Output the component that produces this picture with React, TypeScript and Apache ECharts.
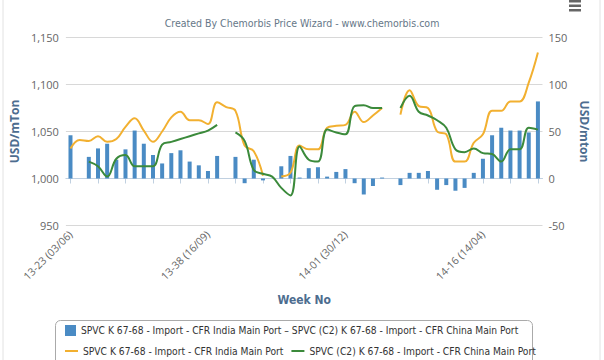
import React, { useEffect, useRef } from "react";
import * as echarts from "echarts";

const categories = [
  "13-23 (03/06)", "13-24 (10/06)", "13-25 (17/06)", "13-26 (24/06)", "13-27 (01/07)", "13-28 (08/07)",
  "13-29 (15/07)", "13-30 (22/07)", "13-31 (29/07)", "13-32 (05/08)", "13-33 (12/08)", "13-34 (19/08)",
  "13-35 (26/08)", "13-36 (02/09)", "13-37 (09/09)", "13-38 (16/09)", "13-39 (23/09)", "13-40 (30/09)",
  "13-41 (07/10)", "13-42 (14/10)", "13-43 (21/10)", "13-44 (28/10)", "13-45 (04/11)", "13-46 (11/11)",
  "13-47 (18/11)", "13-48 (25/11)", "13-49 (02/12)", "13-50 (09/12)", "13-51 (16/12)", "13-52 (23/12)",
  "14-01 (30/12)", "14-02 (06/01)", "14-03 (13/01)", "14-04 (20/01)", "14-05 (27/01)", "14-06 (03/02)",
  "14-07 (10/02)", "14-08 (17/02)", "14-09 (24/02)", "14-10 (03/03)", "14-11 (10/03)", "14-12 (17/03)",
  "14-13 (24/03)", "14-14 (31/03)", "14-15 (07/04)", "14-16 (14/04)", "14-17 (21/04)", "14-18 (28/04)",
  "14-19 (05/05)", "14-20 (12/05)", "14-21 (19/05)", "14-22 (26/05)",
];

const spreadValues = [
  46, null, 23, 32, 37, 20, 31, 51, 37, 25, 16, 27, 30, 18, 14, 8, 24, null,
  23, -5, 20, -2, null, 13, 24, 1, 11, 12, 2, 7, 10, -5, -17, -8, 1, null,
  -7, 6, 6, 8, -12, -7, -13, -10, 6, 21, 46, 54, 51, 51, 49, 82,
];

const indiaValues = [
  1032, 1041, 1040, 1045, 1039, 1042, 1055, 1064, 1051, 1039, 1050, 1065, 1071, 1062, 1062, 1058, 1081, 1076,
  1072, 1035, 1029, 1003, null, 1002, 1006, 1035, 1031, 1031, 1054, 1056, 1057, 1071, 1060, 1067, 1075, null,
  1068, 1094, 1077, 1075, 1050, 1047, 1018, 1018, 1038, 1047, 1072, 1072, 1082, 1082, 1102, 1134,
];

const chinaValues = [
  null, null, 1018, 1013, 1002, 1021, 1025, 1013, 1013, 1013, 1036, 1039, 1042, 1045, 1048, 1051, 1057, null,
  1049, 1040, 1009, 1005, 1002, 990, 982, 1034, 1020, 1018, 1052, 1049, 1047, 1077, 1078, 1075, 1075, null,
  1075, 1088, 1071, 1067, 1062, 1054, 1031, 1028, 1032, 1027, 1026, 1018, 1031, 1031, 1054, 1052,
];

const spreadName =
  "SPVC K 67-68 - Import - CFR India Main Port \u2013 SPVC (C2) K 67-68 - Import - CFR China Main Port";
const indiaName = "SPVC K 67-68 - Import - CFR India Main Port";
const chinaName = "SPVC (C2) K 67-68 - Import - CFR China Main Port";
const titleText = "Created By Chemorbis Price Wizard - www.chemorbis.com";

const FONT = "'Liberation Sans Narrow', 'DejaVu Sans Condensed', Roboto, sans-serif";
const AXISFONT = "'Open Sans', Roboto, sans-serif";

export default function App() {
  const ref = useRef<HTMLDivElement>(null);
  useEffect(() => {
    const chart = echarts.init(ref.current!, null, { renderer: "svg" });
    chart.setOption({
      animation: false,
      backgroundColor: "#ffffff",
      title: {
        text: titleText,
        left: 297,
        textAlign: "center",
        top: 12,
        textStyle: { fontFamily: FONT, fontSize: 10.5, fontWeight: "normal", color: "#667788" },
      },
      grid: { left: 60.5, right: 61.5, top: 37.5, bottom: 134.5, containLabel: false },
      legend: [
        {
          data: [{ name: spreadName, icon: "rect" }],
          left: 65,
          top: 325,
          itemWidth: 11,
          itemHeight: 11,
          itemGap: 6,
          padding: 0,
          textStyle: { fontFamily: FONT, fontSize: 10.2, color: "#333" },
          selectedMode: false,
        },
        {
          data: [
            { name: indiaName, icon: "rect" },
            { name: chinaName, icon: "rect" },
          ],
          left: 65,
          top: 346,
          itemWidth: 13,
          itemHeight: 2,
          itemGap: 8,
          padding: 0,
          textStyle: { fontFamily: FONT, fontSize: 10.2, color: "#333" },
          selectedMode: false,
        },
      ],
      xAxis: {
        type: "category",
        data: categories,
        boundaryGap: true,
        name: "Week No",
        nameLocation: "middle",
        nameGap: 68,
        nameTextStyle: { fontFamily: FONT, fontSize: 12, fontWeight: "bold", color: "#4d6d8f" },
        axisLine: { show: true, lineStyle: { color: "#c0d0e0", width: 1 } },
        axisTick: { show: true, interval: 2, alignWithLabel: true, length: 5, lineStyle: { color: "#c0d0e0" } },
        axisLabel: { interval: 14, rotate: 45, fontSize: 10.5, color: "#666", fontFamily: AXISFONT, margin: 7 },
        splitLine: { show: false },
      },
      yAxis: [
        {
          type: "value",
          min: 950,
          max: 1150,
          interval: 50,
          name: "USD/mTon",
          nameLocation: "middle",
          nameGap: 38,
          nameTextStyle: { fontFamily: AXISFONT, fontSize: 12, fontWeight: "bold", color: "#4d6d8f" },
          axisLine: { show: false },
          axisTick: { show: false },
          axisLabel: {
            fontSize: 11,
            color: "#666",
            fontFamily: AXISFONT,
            margin: 7,
            formatter: (v: number) => v.toLocaleString("en-US"),
          },
          splitLine: { show: true, lineStyle: { color: "#d8d8d8", width: 1 } },
        },
        {
          type: "value",
          min: -50,
          max: 150,
          interval: 50,
          position: "right",
          name: "USD/mton",
          nameLocation: "middle",
          nameGap: 30,
          nameRotate: -90,
          nameTextStyle: { fontFamily: AXISFONT, fontSize: 12, fontWeight: "bold", color: "#4d6d8f" },
          axisLine: { show: false },
          axisTick: { show: false },
          axisLabel: { fontSize: 11, color: "#666", fontFamily: AXISFONT, margin: 6 },
          splitLine: { show: false },
        },
      ],
      series: [
        {
          name: spreadName,
          type: "bar",
          yAxisIndex: 1,
          data: spreadValues,
          barWidth: 4,
          itemStyle: { color: "#4a8bc4" },
        },
        {
          name: indiaName,
          type: "line",
          yAxisIndex: 0,
          data: indiaValues,
          smooth: 0.4,
          showSymbol: false,
          connectNulls: false,
          lineStyle: { color: "#f2b030", width: 2 },
          itemStyle: { color: "#f2b030" },
        },
        {
          name: chinaName,
          type: "line",
          yAxisIndex: 0,
          data: chinaValues,
          smooth: 0.4,
          showSymbol: false,
          connectNulls: false,
          lineStyle: { color: "#3b8a3b", width: 2 },
          itemStyle: { color: "#3b8a3b" },
        },
      ],
      graphic: [
        { type: "line", shape: { x1: 3, y1: 0, x2: 3, y2: 360 }, style: { stroke: "#e2e2e2", lineWidth: 1 } },
        { type: "line", shape: { x1: 600, y1: 0, x2: 600, y2: 360 }, style: { stroke: "#e2e2e2", lineWidth: 1 } },
        {
          type: "rect",
          shape: { x: 55.5, y: 320.5, width: 477, height: 60, r: 5 },
          style: { fill: "none", stroke: "#aaaaaa", lineWidth: 1 },
          z: -1,
        },
        { type: "rect", shape: { x: 569, y: 0, width: 12, height: 2.5 }, style: { fill: "#666" } },
        { type: "rect", shape: { x: 569, y: 4.5, width: 12, height: 2.5 }, style: { fill: "#666" } },
        { type: "rect", shape: { x: 569, y: 9, width: 12, height: 2.5 }, style: { fill: "#666" } },
      ],
    });
    return () => chart.dispose();
  }, []);
  return (
    <div
      ref={ref}
      style={{ position: "absolute", left: 0, top: 0, width: 604, height: 360, background: "#fff" }}
    />
  );
}
